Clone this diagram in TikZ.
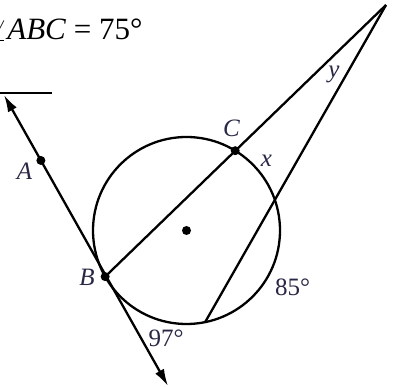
\documentclass[tikz,border=0pt]{standalone}
\usepackage{fontspec}
\setmainfont{Liberation Serif}
\usetikzlibrary{arrows.meta,calc}

\definecolor{lblcol}{RGB}{40,40,70}

\begin{document}
\begin{tikzpicture}[
    x=1pt, y=-1pt,
    geo/.style={line width=2.3pt, draw=black},
    ray/.style={geo, {Latex[length=17pt,width=10pt]}-{Latex[length=17pt,width=10pt]}},
    dot/.style={circle, fill=black, inner sep=0pt, minimum size=9pt},
    lbl/.style={font=\fontsize{25}{27}\selectfont, text=lblcol,
        inner sep=0pt, anchor=base}
]
\useasboundingbox (0,0) rectangle (396,387);

%% ══════════════════════════════ GIVEN ══════════════════════════════
\node[anchor=base west, inner sep=0pt, font=\fontsize{31}{34}\selectfont]
    (given) at (-9,40) {$\angle$\textit{ABC} = 75°};
\draw[line width=2pt] (0,93.3) -- (52,93.3);

%% ══════════════════════════════ CIRCLE ══════════════════════════════
\coordinate (O) at (186.5,230.5);
\draw[geo] (O) circle[radius=93.5pt];

\coordinate (B) at ($(O)+(150.45:93.5)$);
\coordinate (C) at ($(O)+(-58.6:93.5)$);
\coordinate (D) at ($(O)+(78.5:93.5)$);
\coordinate (P) at (386,5);

%% Tangent through B, with A on it
\coordinate (tanTop) at (4,95);
\coordinate (tanBot) at (168,386);
\coordinate (A) at ($(tanTop)!0.225!(tanBot)$);

%% ══════════════════════════════ LINES ══════════════════════════════
\draw[ray] (tanTop) -- (tanBot);
\draw[geo] (B) -- (P);
\draw[geo] (P) -- (D);

\node[dot] (ctr) at (O) {};
\node[dot] (ptA) at (A) {};
\node[dot] (ptB) at (B) {};
\node[dot] (ptC) at (C) {};

%% ══════════════════════════════ LABELS ══════════════════════════════
\node[lbl] (labA) at (24.5,180) {\textit{A}};
\node[lbl] (labB) at (87,286) {\textit{B}};
\node[lbl] (labC) at (231.5,136.7) {\textit{C}};
\node[lbl] (labx) at (266.5,167) {\textit{x}};
\node[lbl] (laby) at (334,78) {\textit{y}};
\node[lbl] (arc85) at (292.5,295) {85°};
\node[lbl] (arc97) at (166,346.5) {97°};

\end{tikzpicture}
\end{document}
